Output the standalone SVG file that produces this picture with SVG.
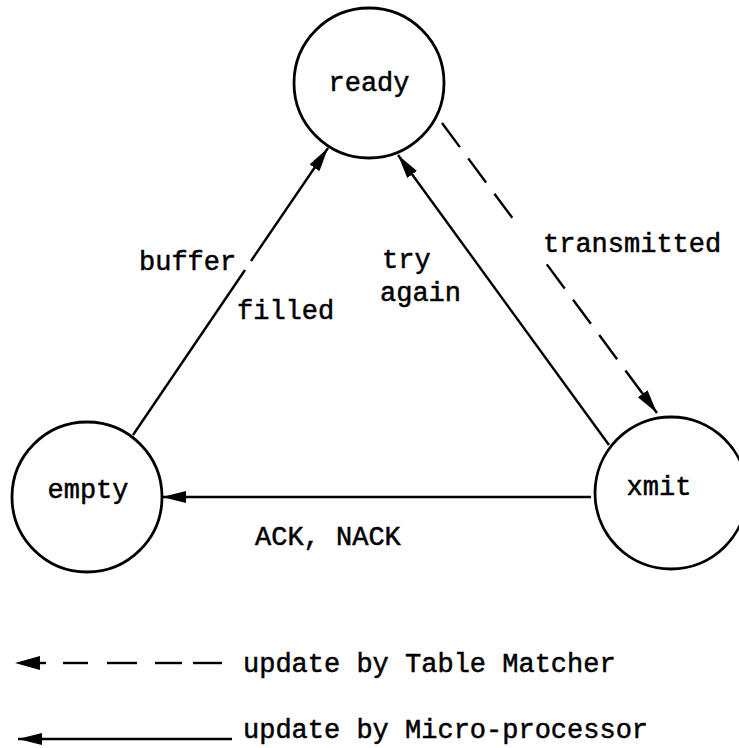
<svg xmlns="http://www.w3.org/2000/svg" width="739" height="748" viewBox="0 0 739 748">
  <style>
    .state { fill: #fff; stroke: #000; stroke-width: 2.8; }
    .edge { fill: none; stroke: #000; stroke-width: 2.4; }
    .dash { stroke-dasharray: 30 14; }
    text { font-family: "Liberation Mono", "Courier New", monospace; font-size: 27px; fill: #000; stroke: #000; stroke-width: 0.5; }
    .mid { text-anchor: middle; }
  </style>
  <defs>
    <marker id="arrow" markerUnits="userSpaceOnUse" markerWidth="26" markerHeight="14" refX="24" refY="6" orient="auto">
      <path d="M0,0 L24,6 L0,12 Z" fill="#000"/>
    </marker>
  </defs>

  <!-- states -->
  <g id="ready">
    <circle class="state" cx="369" cy="83" r="75"/>
    <text class="mid" x="369" y="91">ready</text>
  </g>
  <g id="empty">
    <circle class="state" cx="87" cy="497" r="75"/>
    <text class="mid" x="88" y="498">empty</text>
  </g>
  <g id="xmit">
    <circle class="state" cx="671" cy="493" r="76"/>
    <text class="mid" x="659" y="495">xmit</text>
  </g>

  <!-- transitions -->
  <g id="connectors">
    <!-- empty -> ready (buffer filled), broken where the label crosses -->
    <line class="edge" x1="133" y1="435" x2="245" y2="270"/>
    <line class="edge" x1="251" y1="261" x2="328" y2="148" marker-end="url(#arrow)"/>
    <!-- xmit -> ready (try again) -->
    <line class="edge" x1="609" y1="445" x2="398" y2="155" marker-end="url(#arrow)"/>
    <!-- ready -> xmit (transmitted), dashed -->
    <line class="edge" x1="442" y1="123" x2="657" y2="413" stroke-dasharray="30 14 30 14 30 58 30 14 30 14 30 14 60" marker-end="url(#arrow)"/>
    <!-- xmit -> empty (ACK, NACK) -->
    <line class="edge" x1="591" y1="497" x2="162" y2="497" marker-end="url(#arrow)"/>
  </g>

  <!-- transition labels -->
  <g id="labels">
    <text x="139" y="270">buffer</text>
    <text x="237" y="319">filled</text>
    <text x="382" y="268">try</text>
    <text x="380" y="301">again</text>
    <text x="543" y="252">transmitted</text>
    <text x="255" y="545">ACK, NACK</text>
  </g>

  <!-- legend -->
  <g id="legend">
    <path d="M15,663 L40,656 L40,670 Z" fill="#000"/>
    <line class="edge" x1="38" y1="663" x2="46" y2="663"/>
    <line class="edge" x1="63" y1="663" x2="88" y2="663"/>
    <line class="edge" x1="107" y1="663" x2="137" y2="663"/>
    <line class="edge" x1="155" y1="663" x2="182" y2="663"/>
    <line class="edge" x1="193" y1="663" x2="222" y2="663"/>
    <text x="243" y="672">update by Table Matcher</text>
    <line class="edge" x1="232" y1="739" x2="18" y2="739" marker-end="url(#arrow)"/>
    <text x="243" y="738">update by Micro-processor</text>
  </g>
</svg>
